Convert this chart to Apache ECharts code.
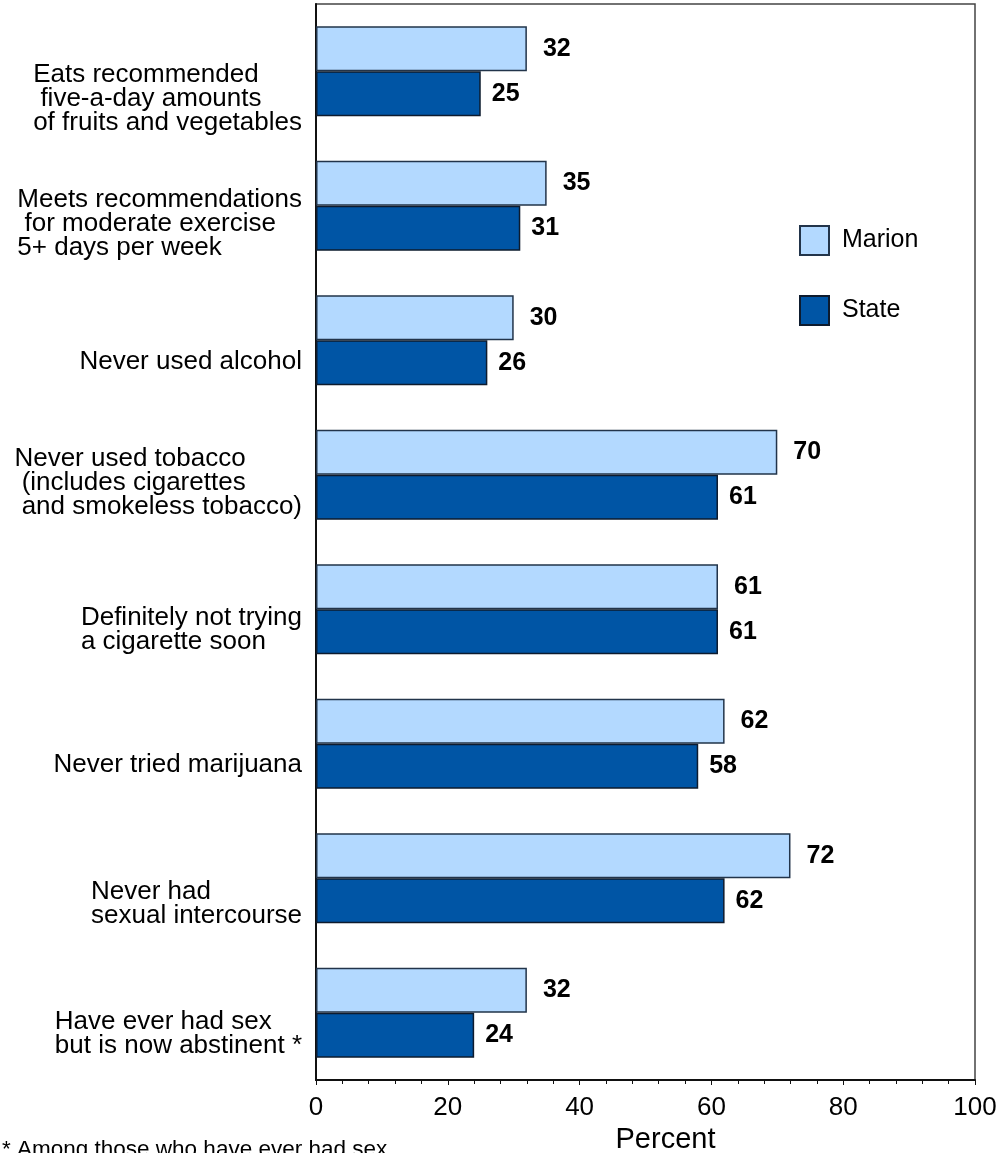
<!DOCTYPE html>
<html>
<head>
<meta charset="utf-8">
<script src="https://cdn.jsdelivr.net/npm/echarts@6/dist/echarts.min.js"></script>
<style>
html,body{margin:0;padding:0;background:#fff;}
#chart{width:1005px;height:1153px;}
</style>
</head>
<body>
<div id="chart"></div>
<script>
// ---- data ----
const categories = [
  "Eats recommended\n five-a-day amounts\nof fruits and vegetables",
  "Meets recommendations\n for moderate exercise\n5+ days per week",
  "Never used alcohol",
  "Never used tobacco\n (includes cigarettes\n and smokeless tobacco)",
  "Definitely not trying\na cigarette soon",
  "Never tried marijuana",
  "Never had\nsexual intercourse",
  "Have ever had sex\nbut is now abstinent *"
];
const seriesNames = ["Marion", "State"];
const marionValues = [32, 35, 30, 70, 61, 62, 72, 32];
const stateValues = [25, 31, 26, 61, 61, 58, 62, 24];
const xMin = 0;
const xMax = 100;
const xInterval = 20;
const xAxisTitle = "Percent";
const footnote = "* Among those who have ever had sex";

// ---- styles ----
const FONT = '"Liberation Sans", Arial, Helvetica, sans-serif';
const labelShift = [28, 18, 22, 8, 21, 21, 26, 21]; // vertical nudge of each category label (px)

const rich = {
  t: { fontSize: 26, lineHeight: 24, fontFamily: FONT, color: '#000', align: 'left' }
};
labelShift.forEach((s, i) => {
  rich['g' + i] = { fontSize: 1, lineHeight: 2 * s, align: 'left', fontFamily: FONT };
});

const chart = echarts.init(document.getElementById('chart'), null, { renderer: 'canvas' });

chart.setOption({
  animation: false,
  backgroundColor: '#fff',
  textStyle: { fontFamily: FONT },
  title: {
    text: footnote,
    left: 2,
    top: 1138,
    padding: 0,
    textStyle: { fontSize: 22.5, fontWeight: 'normal', color: '#000', fontFamily: FONT }
  },
  legend: {
    data: seriesNames,
    orient: 'vertical',
    left: 799,
    top: 225,
    padding: 0,
    itemWidth: 29,
    itemHeight: 29,
    itemGap: 39,
    icon: 'rect',
    textStyle: { fontSize: 25, color: '#000', fontFamily: FONT, padding: [0, 0, 0, 8] }
  },
  grid: {
    left: 316,
    right: 30,
    top: 4,
    bottom: 73,
    show: true,
    borderColor: '#444',
    borderWidth: 1.5,
    outerBoundsMode: 'none'
  },
  xAxis: {
    type: 'value',
    min: xMin,
    max: xMax,
    interval: xInterval,
    name: xAxisTitle,
    nameLocation: 'middle',
    nameGap: 43,
    nameTextStyle: { fontSize: 29, color: '#000', fontFamily: FONT, padding: [0, 0, 0, 40] },
    axisLine: { show: true, lineStyle: { color: '#111', width: 2 } },
    axisTick: { show: true, length: 5, lineStyle: { color: '#111', width: 1 } },
    minorTick: { show: true, splitNumber: 5, length: 4, lineStyle: { color: '#111', width: 1 } },
    splitLine: { show: false },
    axisLabel: { fontSize: 26, color: '#000', margin: 15, fontFamily: FONT }
  },
  yAxis: {
    type: 'category',
    data: categories,
    inverse: true,
    axisLine: { show: true, lineStyle: { color: '#111', width: 2 } },
    axisTick: { show: false },
    splitLine: { show: false },
    axisLabel: {
      interval: 0,
      margin: 14,
      align: 'right',
      rich: rich,
      formatter: function (value, index) {
        return '{g' + index + '| }\n' + value.split('\n').map(l => '{t|' + l + '}').join('\n');
      }
    }
  },
  series: [
    {
      name: seriesNames[0],
      type: 'bar',
      data: marionValues,
      barGap: '0%',
      barCategoryGap: '33%',
      itemStyle: { color: '#b3d9ff', borderColor: '#22344a', borderWidth: 1.5 },
      label: {
        show: true, position: 'right', distance: 16,
        fontSize: 25, fontWeight: 'bold', color: '#000', fontFamily: FONT
      }
    },
    {
      name: seriesNames[1],
      type: 'bar',
      data: stateValues,
      barGap: '0%',
      barCategoryGap: '33%',
      itemStyle: { color: '#0055a5', borderColor: '#0d1b2e', borderWidth: 1.5 },
      label: {
        show: true, position: 'right', distance: 11,
        fontSize: 25, fontWeight: 'bold', color: '#000', fontFamily: FONT
      }
    }
  ]
});
</script>
</body>
</html>
